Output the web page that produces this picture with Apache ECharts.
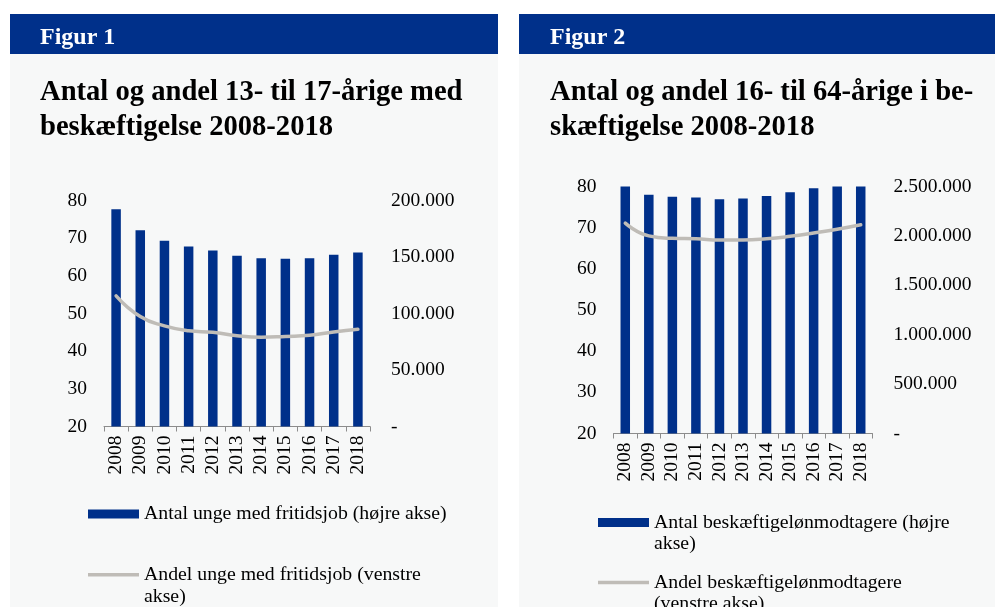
<!DOCTYPE html>
<html><head><meta charset="utf-8">
<script src="https://cdn.jsdelivr.net/npm/echarts@6/dist/echarts.min.js"></script>
<style>html,body{margin:0;padding:0;background:#fff}#c{width:995px;height:607px}</style>
</head><body><div id="c"></div>
<script>
const years = ['2008','2009','2010','2011','2012','2013','2014','2015','2016','2017','2018'];
const antalUnge = [192300, 173700, 164300, 159300, 155800, 151000, 149000, 148400, 149000, 151900, 154000];
const andelUnge = [54.7, 49.2, 46.7, 45.4, 45.0, 44.1, 43.7, 43.9, 44.2, 45.1, 45.8];
const antalBesk = [2510000, 2416000, 2395000, 2389000, 2372000, 2378000, 2405000, 2443000, 2483000, 2510000, 2510000];
const andelBesk = [71.1, 68.0, 67.4, 67.3, 67.0, 67.0, 67.3, 67.9, 68.7, 69.6, 70.7];
const leftTicks = {min: 20, max: 80, interval: 10};
const right1Ticks = {min: 0, max: 200000, interval: 50000};
const right2Ticks = {min: 0, max: 2500000, interval: 500000};
const names = {
  s1: 'Antal unge med fritidsjob (højre akse)',
  s2: 'Andel unge med fritidsjob (venstre akse)',
  s3: 'Antal beskæftigelønmodtagere (højre akse)',
  s4: 'Andel beskæftigelønmodtagere (venstre akse)'
};
const figTitles = ['Figur 1', 'Figur 2'];
const headings = ['Antal og andel 13- til 17-årige med\nbeskæftigelse 2008-2018', 'Antal og andel 16- til 64-årige i be-\nskæftigelse 2008-2018'];

const NAVY = '#00308a', GRAY = '#bfbcb7', FONT = 'Liberation Serif';
const thou = v => v === 0 ? '-' : String(v).replace(/\B(?=(\d{3})+(?!\d))/g, '.');
const axisTxt = {color: '#000', fontFamily: FONT, fontSize: 19.5};

function xAx(gi) {
  return {type: 'category', gridIndex: gi, data: years, boundaryGap: true,
    axisLine: {lineStyle: {color: '#8c8c8c', width: 1}},
    axisTick: {show: true, length: 5, lineStyle: {color: '#8c8c8c'}},
    axisLabel: Object.assign({rotate: 90, margin: 9, interval: 0}, axisTxt)};
}
function yAx(gi, t, right, fmt) {
  return {type: 'value', gridIndex: gi, position: right ? 'right' : 'left',
    min: t.min, max: t.max, interval: t.interval,
    splitLine: {show: false}, axisLine: {show: false}, axisTick: {show: false},
    axisLabel: Object.assign({margin: right ? 21 : 17, formatter: fmt || null}, axisTxt)};
}
const legTxt = (lh) => ({color: '#000', fontFamily: FONT, fontSize: 19.8, lineHeight: lh});

const chart = echarts.init(document.getElementById('c'), null, {renderer: 'canvas'});
chart.setOption({
  animation: false,
  backgroundColor: '#ffffff',
  graphic: [
    {type: 'rect', shape: {x: 10, y: 14, width: 488, height: 593}, style: {fill: '#f7f8f8'}, z: -10},
    {type: 'rect', shape: {x: 10, y: 14, width: 488, height: 40}, style: {fill: NAVY}, z: -9},
    {type: 'rect', shape: {x: 519, y: 14, width: 476, height: 593}, style: {fill: '#f7f8f8'}, z: -10},
    {type: 'rect', shape: {x: 519, y: 14, width: 476, height: 40}, style: {fill: NAVY}, z: -9}
  ],
  title: [
    {text: figTitles[0], left: 40, top: 23, padding: 0, textStyle: {color: '#fff', fontFamily: FONT, fontWeight: 'bold', fontSize: 24, lineHeight: 30}},
    {text: figTitles[1], left: 550, top: 23, padding: 0, textStyle: {color: '#fff', fontFamily: FONT, fontWeight: 'bold', fontSize: 24, lineHeight: 30}},
    {text: headings[0], left: 40, top: 75, padding: 0, textStyle: {color: '#000', fontFamily: FONT, fontWeight: 'bold', fontSize: 28.6, lineHeight: 35}},
    {text: headings[1], left: 550, top: 75, padding: 0, textStyle: {color: '#000', fontFamily: FONT, fontWeight: 'bold', fontSize: 28.6, lineHeight: 35}}
  ],
  grid: [
    {left: 104, top: 200.5, width: 266, height: 226, containLabel: false},
    {left: 613.5, top: 186.5, width: 259, height: 247, containLabel: false}
  ],
  xAxis: [xAx(0), xAx(1)],
  yAxis: [
    yAx(0, leftTicks, false), yAx(0, right1Ticks, true, thou),
    yAx(1, leftTicks, false), yAx(1, right2Ticks, true, thou)
  ],
  legend: [
    {data: [names.s1], left: 88, top: 503, orient: 'vertical', selectedMode: false, icon: 'rect', itemWidth: 51, itemHeight: 9,
     itemStyle: {color: NAVY, borderWidth: 0}, textStyle: legTxt(22), padding: 0},
    {data: [names.s2], left: 88, top: 564, orient: 'vertical', selectedMode: false,
     icon: 'path://M0,9L51,9L51,12.6L0,12.6Z M0,0 M51,44', itemWidth: 51, itemHeight: 44,
     itemStyle: {color: GRAY, borderWidth: 0}, textStyle: legTxt(22), padding: 0,
     formatter: n => n.replace(' akse)', '\nakse)')},
    {data: [names.s3], left: 598, top: 512, orient: 'vertical', selectedMode: false,
     icon: 'path://M0,6L51,6L51,15L0,15Z M0,0 M51,42', itemWidth: 51, itemHeight: 42,
     itemStyle: {color: NAVY, borderWidth: 0}, textStyle: legTxt(21), padding: 0,
     formatter: n => n.replace(' akse)', '\nakse)')},
    {data: [names.s4], left: 598, top: 572.5, orient: 'vertical', selectedMode: false,
     icon: 'path://M0,8.2L51,8.2L51,11.8L0,11.8Z M0,0 M51,42', itemWidth: 51, itemHeight: 42,
     itemStyle: {color: GRAY, borderWidth: 0}, textStyle: legTxt(21), padding: 0,
     formatter: n => n.replace(' (venstre', '\n(venstre')}
  ],
  series: [
    {name: names.s1, type: 'bar', xAxisIndex: 0, yAxisIndex: 1, data: antalUnge, barWidth: 9.5,
     itemStyle: {color: NAVY}, z: 2},
    {name: names.s2, type: 'line', xAxisIndex: 0, yAxisIndex: 0, data: andelUnge, smooth: 0.5,
     showSymbol: false, symbol: 'none', lineStyle: {color: GRAY, width: 3.5, cap: 'round'}, itemStyle: {color: GRAY}, z: 3},
    {name: names.s3, type: 'bar', xAxisIndex: 1, yAxisIndex: 3, data: antalBesk, barWidth: 9.5, clip: true,
     itemStyle: {color: NAVY}, z: 2},
    {name: names.s4, type: 'line', xAxisIndex: 1, yAxisIndex: 2, data: andelBesk, smooth: 0.5,
     showSymbol: false, symbol: 'none', lineStyle: {color: GRAY, width: 3.5, cap: 'round'}, itemStyle: {color: GRAY}, z: 3}
  ]
});
</script></body></html>
